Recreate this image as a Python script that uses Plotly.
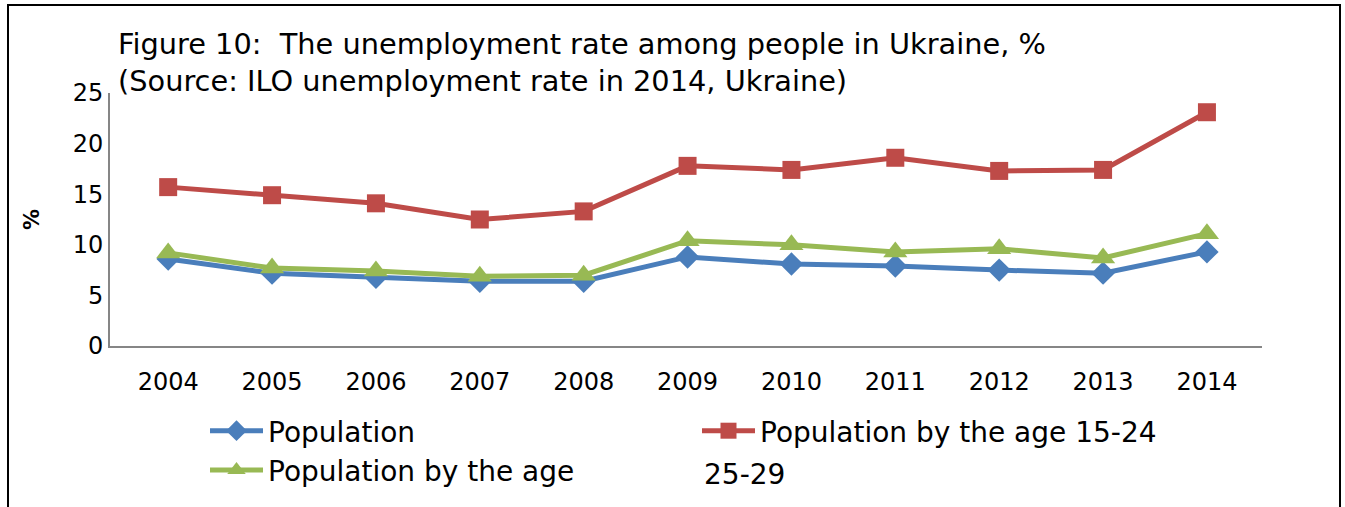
import plotly.graph_objects as go

years = ["2004", "2005", "2006", "2007", "2008", "2009", "2010", "2011", "2012", "2013", "2014"]
population = [8.6, 7.2, 6.8, 6.4, 6.4, 8.8, 8.1, 7.9, 7.5, 7.2, 9.3]
age_15_24 = [15.7, 14.9, 14.1, 12.5, 13.3, 17.8, 17.4, 18.6, 17.3, 17.4, 23.1]
age_25_29 = [9.2, 7.7, 7.4, 6.9, 7.0, 10.4, 10.0, 9.3, 9.6, 8.7, 11.1]
y_ticks = [0, 5, 10, 15, 20, 25]

W, H = 1345, 507
ML, MR, MT, MB = 110, 83, 93, 161
PW = W - ML - MR
PH = H - MT - MB

FONT = "DejaVu Sans"

fig = go.Figure()
fig.add_trace(go.Scatter(x=years, y=population, name="Population", mode="lines+markers",
                         line=dict(color="#4A7EBB", width=5),
                         marker=dict(symbol="diamond", size=18, color="#4A7EBB")))
fig.add_trace(go.Scatter(x=years, y=age_15_24, name="Population by the age 15-24", mode="lines+markers",
                         line=dict(color="#BE4B48", width=5),
                         marker=dict(symbol="square", size=18, color="#BE4B48")))
fig.add_trace(go.Scatter(x=years, y=age_25_29, name="Population by the age", mode="lines+markers",
                         line=dict(color="#98B954", width=5),
                         marker=dict(symbol="triangle-up", size=21, color="#98B954")))

def px_x(p):
    return (p - ML) / PW

def px_y(p):
    return (H - MB - p) / PH

fig.update_layout(
    width=W, height=H,
    margin=dict(l=ML, r=MR, t=MT, b=MB, autoexpand=False),
    paper_bgcolor="white", plot_bgcolor="white",
    font=dict(family=FONT, size=20, color="black"),
    showlegend=True,
    legend=dict(orientation="h", x=px_x(205), y=px_y(406), xanchor="left", yanchor="top",
                entrywidth=424, entrywidthmode="pixels",
                font=dict(family=FONT, size=28),
                itemwidth=53, tracegroupgap=0, bgcolor="rgba(0,0,0,0)"),
    xaxis=dict(type="category", range=[-0.56, 10.53], showline=True, linecolor="#868686", linewidth=2,
               showgrid=False, ticks="", tickfont=dict(size=24), zeroline=False,
               ticklabelstandoff=13),
    yaxis=dict(range=[0, 25], tickvals=y_ticks, showline=True, linecolor="#868686", linewidth=2,
               showgrid=False, ticks="", tickfont=dict(size=24), zeroline=False,
               title=dict(text="<b>%</b>", font=dict(size=21), standoff=27)),
    annotations=[
        dict(text="Figure 10:  The unemployment rate among people in Ukraine, %<br>(Source: ILO unemployment rate in 2014, Ukraine)",
             xref="paper", yref="paper", x=px_x(116), y=px_y(25), xanchor="left", yanchor="top",
             align="left", showarrow=False, font=dict(size=28.8)),
        dict(text="25-29", xref="paper", yref="paper", x=px_x(702), y=px_y(456), xanchor="left", yanchor="top",
             showarrow=False, font=dict(family=FONT, size=28)),
    ],
    shapes=[
        dict(type="rect", xref="paper", yref="paper", x0=px_x(8), x1=px_x(1340), y0=px_y(530), y1=px_y(5),
             line=dict(color="black", width=2), fillcolor="rgba(0,0,0,0)", layer="below"),
    ],
)

fig.write_html("out.html", config={"displayModeBar": False},
               post_script="document.body.style.margin='0';document.body.style.overflow='hidden';")
